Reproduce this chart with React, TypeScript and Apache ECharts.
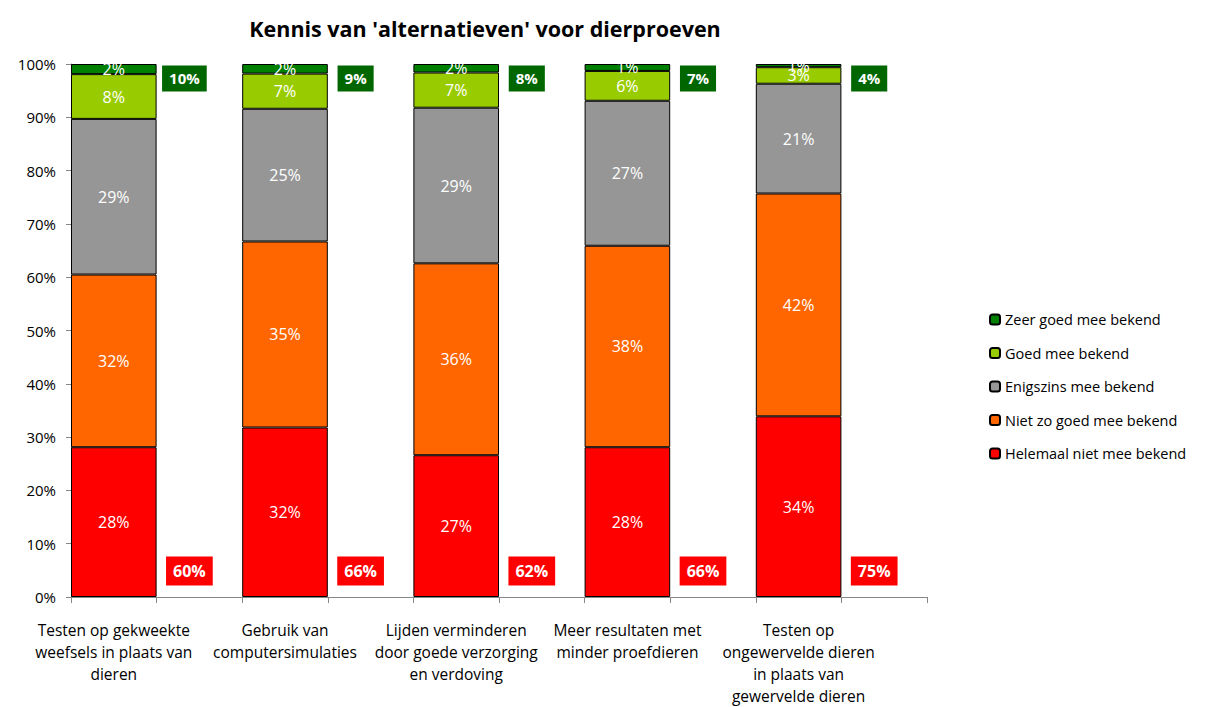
import React, { useEffect, useRef } from "react";
import * as echarts from "echarts";

const categories = [
  "Testen op gekweekte\nweefsels in plaats van\ndieren",
  "",
  "Gebruik van\ncomputersimulaties",
  "",
  "Lijden verminderen\ndoor goede verzorging\nen verdoving",
  "",
  "Meer resultaten met\nminder proefdieren",
  "",
  "Testen op\nongewervelde dieren\nin plaats van\ngewervelde dieren",
  "",
];

const helemaal = [28.1, 31.8, 26.6, 28.1, 33.9];
const nietZoGoed = [32.4, 34.9, 36.0, 37.8, 41.8];
const enigszins = [29.2, 24.9, 29.2, 27.2, 20.6];
const goed = [8.4, 6.6, 6.6, 5.6, 3.1];
const zeerGoed = [1.9, 1.8, 1.6, 1.3, 0.6];

const topBoxLabels = [10, 9, 8, 7, 4];
const bottomBoxLabels = [60, 66, 62, 66, 75];

const FONT = "'Open Sans', 'Noto Sans', sans-serif";

function spread(vals: number[]) {
  const out: (number | string)[] = [];
  vals.forEach((v) => {
    out.push(v);
    out.push("-");
  });
  return out;
}

export default function App() {
  const ref = useRef<HTMLDivElement>(null);
  useEffect(() => {
    if (!ref.current) return;
    const chart = echarts.init(ref.current, undefined, { renderer: "svg" });
    const barLabel = {
      show: true,
      position: "inside",
      color: "#ffffff",
      fontFamily: FONT,
      fontSize: 16,
      formatter: (p: any) => Math.round(p.value) + "%",
    };
    const mk = (name: string, data: number[], color: string) => ({
      name,
      type: "bar",
      stack: "total",
      barCategoryGap: "0%",
      barWidth: "100%",
      data: spread(data),
      itemStyle: { color, borderColor: "#000000", borderWidth: 1 },
      label: barLabel,
    });
    chart.setOption({
      animation: false,
      backgroundColor: "#ffffff",
      title: {
        text: "Kennis van 'alternatieven' voor dierproeven",
        left: 480,
        textAlign: "center",
        top: 12,
        textStyle: { fontFamily: FONT, fontSize: 21.5, fontWeight: "bold", color: "#000" },
      },
      legend: {
        orient: "vertical",
        left: 984,
        top: 307,
        itemWidth: 10,
        itemHeight: 10,
        itemGap: 18.5,
        data: [
          "Zeer goed mee bekend",
          "Goed mee bekend",
          "Enigszins mee bekend",
          "Niet zo goed mee bekend",
          "Helemaal niet mee bekend",
        ],
        textStyle: { fontFamily: FONT, fontSize: 14.5, color: "#000" },
      },
      grid: { left: 71, right: 284, top: 64, bottom: 109, containLabel: false },
      xAxis: {
        type: "category",
        data: categories,
        boundaryGap: true,
        axisLine: { lineStyle: { color: "#868686", width: 1 } },
        axisTick: { show: true, interval: 0, length: 6, lineStyle: { color: "#868686" } },
        axisLabel: {
          interval: 0,
          margin: 22,
          fontFamily: FONT,
          fontSize: 15.5,
          lineHeight: 22,
          color: "#000",
          align: "center",
        },
      },
      yAxis: {
        type: "value",
        min: 0,
        max: 100,
        interval: 10,
        splitLine: { show: false },
        axisLine: { show: true, lineStyle: { color: "#868686", width: 1 } },
        axisTick: { show: true, length: 5, lineStyle: { color: "#868686" } },
        axisLabel: {
          formatter: "{value}%",
          fontFamily: FONT,
          fontSize: 15,
          color: "#000",
          margin: 15,
        },
      },
      series: [
        mk("Helemaal niet mee bekend", helemaal, "#ff0000"),
        mk("Niet zo goed mee bekend", nietZoGoed, "#ff6600"),
        mk("Enigszins mee bekend", enigszins, "#969696"),
        mk("Goed mee bekend", goed, "#99cc00"),
        mk("Zeer goed mee bekend", zeerGoed, "#008000"),
        {
          type: "scatter",
          symbolSize: 1,
          silent: true,
          itemStyle: { opacity: 0 },
          data: topBoxLabels.map((v, i) => [i * 2 + 1, 97.3]),
          label: {
            show: true,
            opacity: 1,
            position: "inside",
            offset: [-15, 0],
            formatter: (p: any) => topBoxLabels[(p.data[0] - 1) / 2] + "%",
            backgroundColor: "#006600",
            color: "#fff",
            fontFamily: FONT,
            fontSize: 15,
            fontWeight: "bold",
            padding: [6, 7, 5, 7],
          },
        },
        {
          type: "scatter",
          symbolSize: 1,
          silent: true,
          itemStyle: { opacity: 0 },
          data: bottomBoxLabels.map((v, i) => [i * 2 + 1, 4.9]),
          label: {
            show: true,
            opacity: 1,
            position: "inside",
            offset: [-10, 0],
            formatter: (p: any) => bottomBoxLabels[(p.data[0] - 1) / 2] + "%",
            backgroundColor: "#ff0000",
            color: "#fff",
            fontFamily: FONT,
            fontSize: 16,
            fontWeight: "bold",
            padding: [7, 7, 6, 7],
          },
        },
      ],
    });
    return () => chart.dispose();
  }, []);
  return <div ref={ref} style={{ width: 1211, height: 707, position: "absolute", left: 0, top: 0 }} />;
}
